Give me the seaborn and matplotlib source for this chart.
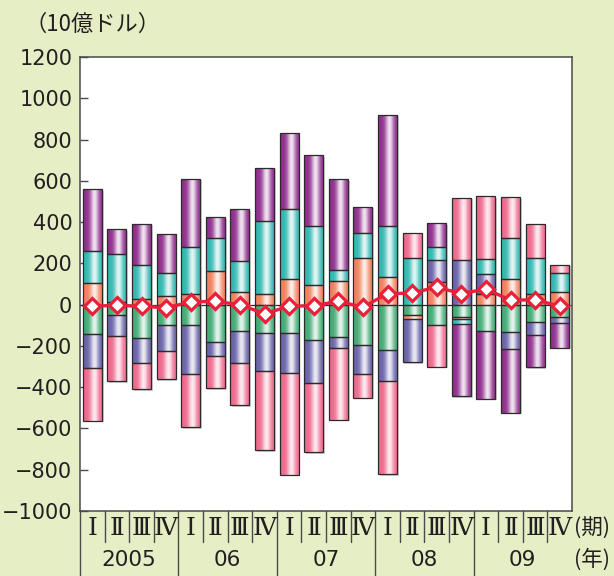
import numpy as np
import matplotlib
matplotlib.use("Agg")
import matplotlib.pyplot as plt
import seaborn as sns
from matplotlib.colors import to_rgb

# ---- data (10億ドル) ----
quarters = ["Ⅰ", "Ⅱ", "Ⅲ", "Ⅳ"] * 5
years = ["2005", "06", "07", "08", "09"]

# components, stacked in this order (positives upward, negatives downward)
green  = [-144, -52, -160, -97, -97, -180, -126, -138, -138, -170, -157, -194, -222, -49, -100, -60, -130, -133, -84, -62]
orange = [105, 15, 29, 40, 53, 165, 60, 50, 124, 97, 115, 226, 134, -19, 110, -12, 53, 124, 50, 61]
blue   = [-164, -100, -123, -130, -241, -68, -159, -184, -192, -210, -53, -144, -147, -211, 105, 218, 94, -84, -62, -27]
cyan   = [155, 229, 165, 113, 227, 157, 152, 353, 340, 282, 53, 122, 246, 226, 65, -20, 74, 199, 178, 94]
purple = [298, 123, 199, 190, 331, 103, 252, 260, 369, 344, 439, 126, 540, 0, 116, -353, -326, -307, -157, -120]
pink   = [-254, -220, -128, -134, -256, -158, -202, -382, -494, -334, -347, -113, -451, 122, -200, 301, 306, 199, 165, 39]
balance = [-8, -3, -8, -15, 13, 16, 0, -44, -8, -5, 16, -12, 53, 56, 85, 53, 76, 21, 24, -8]

layers = [
    (green, "#43ac76"),
    (orange, "#f2805c"),
    (blue, "#6a64aa"),
    (cyan, "#33b8b1"),
    (purple, "#90308e"),
    (pink, "#ee6a8d"),
]

BG = "#e6eec6"
INK = "#231f20"
LINE = "#e8203a"

sns.set_style("white")
plt.rcParams["font.family"] = ["DejaVu Sans", "Noto Sans CJK JP"]

fig = plt.figure(figsize=(6.14, 5.76), dpi=100, facecolor=BG)
ax = fig.add_axes([80 / 614, 65 / 576, 492 / 614, 454 / 576])
ax.set_facecolor("white")

x = np.arange(len(quarters))
W = 0.78


def shade(patch, base):
    """Fill a bar segment with a horizontal tube-like gradient."""
    x0, y0 = patch.get_x(), patch.get_y()
    w, h = patch.get_width(), patch.get_height()
    t = np.linspace(0, 1, 96)
    glow = 0.86 * np.exp(-((t - 0.58) / 0.21) ** 2)
    rgb = np.array(to_rgb(base))
    cols = rgb[None, :] * (1 - glow[:, None]) + glow[:, None]
    im = ax.imshow(cols[None, :, :], extent=[x0, x0 + w, y0, y0 + h],
                   aspect="auto", origin="lower", zorder=2,
                   interpolation="bilinear")
    im.set_clip_path(patch)


# soft drop shadow behind each full bar
tops = np.sum([np.clip(v, 0, None) for v, _ in layers], axis=0)
bots = np.sum([np.clip(v, None, 0) for v, _ in layers], axis=0)
ax.bar(x + 0.07, tops - bots, bottom=bots - 8, width=W,
       color="#a9a9a9", alpha=0.55, lw=0, zorder=1.5)

pos_base = np.zeros(len(x))
neg_base = np.zeros(len(x))
for vals, col in layers:
    v = np.array(vals, dtype=float)
    bottoms = np.where(v >= 0, pos_base, neg_base)
    bars = ax.bar(x, v, width=W, bottom=bottoms, facecolor="none",
                  edgecolor="#2e2a2b", lw=0.9, zorder=3)
    for b, val in zip(bars, v):
        if val != 0:
            shade(b, col)
        else:
            b.set_visible(False)
    pos_base += np.clip(v, 0, None)
    neg_base += np.clip(v, None, 0)

ax.axhline(0, color="#2e2a2b", lw=0.9, zorder=1)

sns.lineplot(x=x, y=balance, ax=ax, color=LINE, lw=2.4, marker="D",
             markersize=8.5, markerfacecolor="white", markeredgecolor=LINE,
             markeredgewidth=2.3, zorder=6)

ax.set_xlim(-0.5, len(x) - 0.5)
ax.set_ylim(-1000, 1200)
ax.set_yticks(np.arange(-1000, 1201, 200))
ax.set_xticks([])
ax.set_xlabel("")
ax.set_ylabel("")
ax.tick_params(axis="y", direction="in", length=6, width=1.0, color="#4a4a4a",
               labelsize=15, labelcolor=INK, pad=5.5, left=True)
for s in ax.spines.values():
    s.set_color("#4a4a4a")
    s.set_linewidth(1.1)

# category table under the plot
tr = ax.get_xaxis_transform()
lc = "#4a4a4a"
for k in range(len(x)):
    xe = k - 0.5
    y_end = -0.144 if k % 4 == 0 else -0.068
    ax.plot([xe, xe], [0, y_end], transform=tr, color=lc, lw=1.0, clip_on=False)
for i, q in enumerate(quarters):
    ax.text(i, -0.038, q, transform=tr, ha="center", va="center",
            fontsize=18, color=INK, family=["DejaVu Serif", "Noto Sans CJK JP"])
for j, yl in enumerate(years):
    ax.text(4 * j + 1.5, -0.108, yl, transform=tr, ha="center", va="center",
            fontsize=15.5, color=INK)
ax.text(1.004, -0.038, "(期)", transform=ax.transAxes, ha="left", va="center",
        fontsize=15.5, color=INK, family=["Noto Sans CJK JP"])
ax.text(1.004, -0.108, "(年)", transform=ax.transAxes, ha="left", va="center",
        fontsize=15.5, color=INK, family=["Noto Sans CJK JP"])

fig.text(24 / 614, 1 - 24 / 576, "（10億ドル）", ha="left", va="center",
         fontsize=16, color=INK, family=["Noto Sans CJK JP"])

fig.savefig("out.png", dpi=100, facecolor=BG)
